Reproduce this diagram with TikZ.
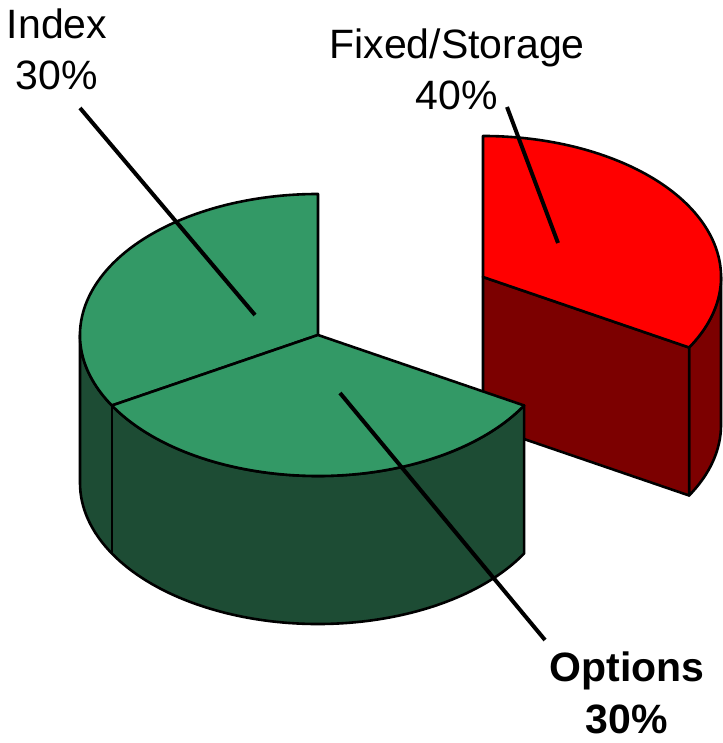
\documentclass[tikz,border=0pt]{standalone}
\usepackage{fontspec}
\setmainfont{Liberation Sans}
\usetikzlibrary{calc}

\definecolor{topgreen}{RGB}{51,153,102}
\definecolor{sidegreen}{RGB}{29,76,52}
\definecolor{topred}{RGB}{255,0,0}
\definecolor{sidered}{RGB}{124,0,0}

\newcommand\piedepth{148}

\begin{document}
\begin{tikzpicture}[x=1pt, y=1pt,
                    slice/.style={draw=black, line width=2.6pt, line join=round},
                    seam/.style={draw=black, line width=1.4pt},
                    leader/.style={draw=black, line width=4pt},
                    pielabel/.style={inner sep=0pt, align=center, font=\fontsize{41}{51}\selectfont},
                    rim/.style={x radius=238, y radius=141}
]
\useasboundingbox (0,0) rectangle (722,743);

\coordinate (G) at (318,408);
\coordinate (R) at ($(G)+(165,58)$);
\coordinate (G180) at ($(G)+(180:238 and 141)$);
\coordinate (G210) at ($(G)+(210:238 and 141)$);
\coordinate (G330) at ($(G)+(330:238 and 141)$);
\coordinate (R330) at ($(R)+(330:238 and 141)$);

% exploded slice (Fixed/Storage)
\filldraw[slice, fill=sidered] (R330) arc[rim, start angle=330, end angle=360]
    -- ++(0,-\piedepth) arc[rim, start angle=360, end angle=330] -- cycle;
\filldraw[slice, fill=sidered] (R) -- (R330) -- ($(R330)+(0,-\piedepth)$)
    -- ($(R)+(0,-\piedepth)$) -- cycle;
\filldraw[slice, fill=topred] (R) -- (R330) arc[rim, start angle=330, end angle=450] -- cycle;

% Index and Options
\filldraw[slice, fill=sidegreen] (G180) arc[rim, start angle=180, end angle=330]
    -- ++(0,-\piedepth) arc[rim, start angle=330, end angle=180] -- cycle;
\draw[seam] (G210) -- ++(0,-\piedepth);
\filldraw[slice, fill=topgreen] (G) -- (G210) arc[rim, start angle=210, end angle=90] -- cycle;
\filldraw[slice, fill=topgreen] (G) -- (G210) arc[rim, start angle=210, end angle=330] -- cycle;

% labels
\node[pielabel] (index) at (57,694) {Index\\30\%};
\node[pielabel] (fixed) at (457,674) {Fixed/Storage\\40\%};
\node[pielabel, font=\fontsize{41}{52}\selectfont\bfseries] (options) at (627,50) {Options\\30\%};

\coordinate (indexfrom) at (80,635);
\coordinate (indexto) at (255,428);
\coordinate (fixedfrom) at (507,636);
\coordinate (fixedto) at (558,500);
\coordinate (optionsfrom) at (545,103);
\coordinate (optionsto) at (340,350);
\draw[leader] (indexfrom) -- (indexto);
\draw[leader] (fixedfrom) -- (fixedto);
\draw[leader] (optionsfrom) -- (optionsto);
\end{tikzpicture}
\end{document}
